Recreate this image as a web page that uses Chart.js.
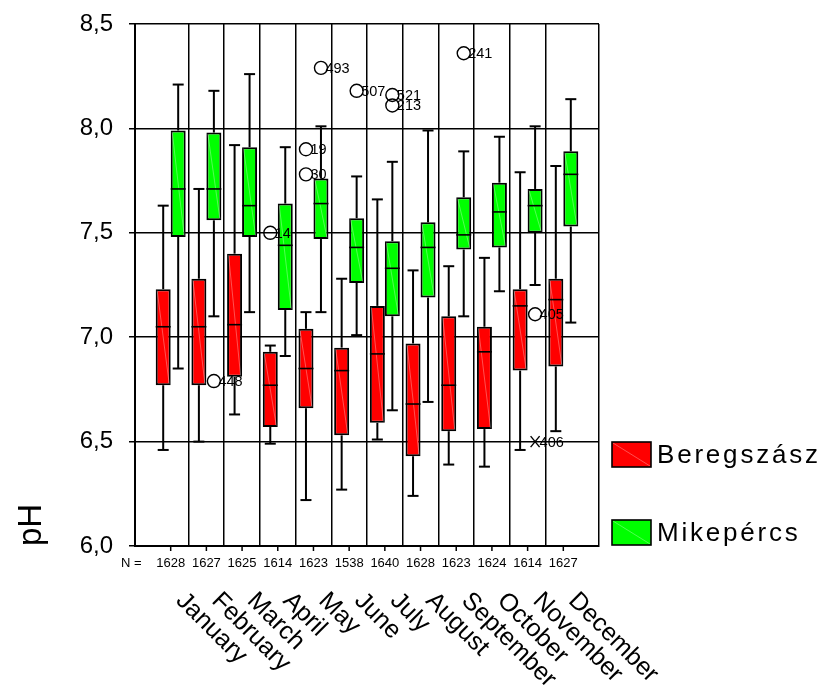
<!DOCTYPE html>
<html lang="hu">
<head>
    <meta charset="UTF-8">
    <title>pH boxplot</title>
    <script src="https://cdn.jsdelivr.net/npm/chart.js"></script>
    <style>
        html, body {
            margin: 0;
            padding: 0;
            background: #fff;
        }

        #wrap {
            width: 830px;
            height: 688px;
        }
    </style>
</head>
<body>
    <div id="wrap">
        <canvas id="box"></canvas>
    </div>
    <script>
        const FONT = 'Arial, "Liberation Sans", sans-serif';

        const months = ['January', 'February', 'March', 'April', 'May', 'June',
            'July', 'August', 'September', 'October', 'November', 'December'];
        const seriesNames = ['Beregszász', 'Mikepércs'];
        const yTicks = [6.0, 6.5, 7.0, 7.5, 8.0, 8.5];

        // sample sizes (N row)
        const nBereg = [16, 16, 16, 16, 16, 15, 16, 16, 16, 16, 16, 16];
        const nMike = [28, 27, 25, 14, 23, 38, 40, 28, 23, 24, 14, 27];

        // Beregszász: whisker ends, quartiles, median
        const beregMin = [6.46, 6.50, 6.63, 6.49, 6.22, 6.27, 6.51, 6.24, 6.39, 6.38, 6.46, 6.55];
        const beregQ1 = [6.77, 6.77, 6.81, 6.57, 6.66, 6.53, 6.59, 6.43, 6.55, 6.56, 6.84, 6.86];
        const beregMed = [7.05, 7.05, 7.06, 6.77, 6.85, 6.84, 6.92, 6.68, 6.77, 6.93, 7.15, 7.18];
        const beregQ3 = [7.23, 7.28, 7.40, 6.93, 7.04, 6.95, 7.15, 6.97, 7.10, 7.05, 7.23, 7.28];
        const beregMax = [7.63, 7.71, 7.92, 6.96, 7.12, 7.28, 7.66, 7.32, 7.34, 7.38, 7.79, 7.82];

        // Mikepércs
        const mikeMin = [6.85, 7.10, 7.12, 6.91, 7.12, 7.01, 6.65, 6.69, 7.10, 7.22, 7.25, 7.07];
        const mikeQ1 = [7.48, 7.56, 7.48, 7.13, 7.47, 7.26, 7.10, 7.19, 7.42, 7.43, 7.50, 7.53];
        const mikeMed = [7.71, 7.71, 7.63, 7.44, 7.64, 7.43, 7.33, 7.43, 7.49, 7.60, 7.63, 7.78];
        const mikeQ3 = [7.99, 7.98, 7.91, 7.64, 7.76, 7.57, 7.46, 7.55, 7.67, 7.74, 7.71, 7.89];
        const mikeMax = [8.21, 8.18, 8.26, 7.91, 8.01, 7.77, 7.84, 7.99, 7.89, 7.96, 8.01, 8.14];

        // outliers: series index, month index, value, case label, kind
        const outliers = [
            { s: 0, m: 3, v: 7.50, label: '14', kind: 'o' },
            { s: 0, m: 4, v: 7.90, label: '19', kind: 'o' },
            { s: 0, m: 4, v: 7.78, label: '30', kind: 'o' },
            { s: 1, m: 1, v: 6.79, label: '448', kind: 'o' },
            { s: 1, m: 4, v: 8.29, label: '493', kind: 'o' },
            { s: 1, m: 5, v: 8.18, label: '507', kind: 'o' },
            { s: 1, m: 6, v: 8.16, label: '521', kind: 'o' },
            { s: 1, m: 6, v: 8.11, label: '213', kind: 'o' },
            { s: 1, m: 8, v: 8.36, label: '241', kind: 'o' },
            { s: 1, m: 10, v: 7.11, label: '405', kind: 'o' },
            { s: 1, m: 10, v: 6.50, label: '406', kind: 'x' }
        ];

        const colors = ['#ff0000', '#00ff00'];
        const stats = [
            { min: beregMin, med: beregMed, max: beregMax },
            { min: mikeMin, med: mikeMed, max: mikeMax }
        ];

        const line = (ctx, x1, y1, x2, y2) => {
            ctx.beginPath();
            ctx.moveTo(x1, y1);
            ctx.lineTo(x2, y2);
            ctx.stroke();
        };

        // whiskers, medians, outliers, bottom labels and legend
        const boxExtras = {
            id: 'boxExtras',
            afterDatasetsDraw(chart) {
                const ctx = chart.ctx;
                const ys = chart.scales.y;
                ctx.save();
                stats.forEach((s, d) => {
                    chart.getDatasetMeta(d).data.forEach((bar, i) => {
                        const x = bar.x, w = bar.width;
                        const top = Math.min(bar.y, bar.base), bottom = Math.max(bar.y, bar.base);
                        // faint diagonal sheen like the original export
                        ctx.strokeStyle = 'rgba(255,255,255,0.45)';
                        ctx.lineWidth = 0.7;
                        line(ctx, x - w / 2 + 1.5, top + 1.5, x + w / 2 - 1.5, bottom - 1.5);

                        ctx.strokeStyle = '#000';
                        ctx.lineWidth = 2;
                        const yMax = ys.getPixelForValue(s.max[i]);
                        const yMin = ys.getPixelForValue(s.min[i]);
                        line(ctx, x, top, x, yMax);
                        line(ctx, x - 5.5, yMax, x + 5.5, yMax);
                        line(ctx, x, bottom, x, yMin);
                        line(ctx, x - 5.5, yMin, x + 5.5, yMin);
                        ctx.lineWidth = 1.6;
                        const yMed = ys.getPixelForValue(s.med[i]);
                        line(ctx, x - w / 2, yMed, x + w / 2, yMed);
                    });
                });

                // outliers
                ctx.font = '14.5px ' + FONT;
                ctx.textBaseline = 'middle';
                ctx.textAlign = 'left';
                ctx.fillStyle = '#000';
                outliers.forEach(o => {
                    const bar = chart.getDatasetMeta(o.s).data[o.m];
                    const x = bar.x, y = ys.getPixelForValue(o.v);
                    ctx.lineWidth = 1.4;
                    ctx.strokeStyle = '#000';
                    if (o.kind === 'o') {
                        ctx.beginPath();
                        ctx.arc(x, y, 6.5, 0, Math.PI * 2);
                        ctx.stroke();
                    } else {
                        line(ctx, x - 4.5, y - 5.5, x + 4.5, y + 5.5);
                        line(ctx, x - 4.5, y + 5.5, x + 4.5, y - 5.5);
                    }
                    ctx.fillText(o.label, x + 4.5, y + 1);
                });
                ctx.restore();
            },
            afterDraw(chart) {
                const ctx = chart.ctx;
                const xs = chart.scales.x;
                const area = chart.chartArea;
                ctx.save();
                ctx.fillStyle = '#000';
                ctx.strokeStyle = '#000';

                // centre tick marks, N row, month names
                ctx.lineWidth = 1.5;
                ctx.font = '13px ' + FONT;
                ctx.textBaseline = 'middle';
                ctx.textAlign = 'left';
                ctx.fillText('N =', 121, 563);
                months.forEach((m, i) => {
                    const cx = xs.getPixelForValue(i + 1);
                    line(ctx, cx, area.bottom, cx, area.bottom + 5);
                    ctx.font = '13px ' + FONT;
                    ctx.textAlign = 'center';
                    ctx.textBaseline = 'middle';
                    ctx.fillText(`${nBereg[i]}${nMike[i]}`, cx, 563);

                    ctx.save();
                    ctx.translate(cx + 18, 588);
                    ctx.rotate(Math.PI / 4);
                    ctx.font = '25px ' + FONT;
                    ctx.textAlign = 'left';
                    ctx.textBaseline = 'top';
                    ctx.fillText(m, 0, 0);
                    ctx.restore();
                });

                // legend
                const legendY = [442, 520];
                seriesNames.forEach((name, k) => {
                    const bx = 612, by = legendY[k], bw = 39, bh = 25;
                    ctx.fillStyle = colors[k];
                    ctx.fillRect(bx, by, bw, bh);
                    ctx.strokeStyle = 'rgba(255,255,255,0.45)';
                    ctx.lineWidth = 0.7;
                    line(ctx, bx + 1, by + 1, bx + bw - 1, by + bh - 1);
                    ctx.strokeStyle = '#000';
                    ctx.lineWidth = 1.6;
                    ctx.strokeRect(bx, by, bw, bh);
                    ctx.fillStyle = '#000';
                    ctx.font = '26px ' + FONT;
                    ctx.letterSpacing = '2.8px';
                    ctx.textAlign = 'left';
                    ctx.textBaseline = 'middle';
                    ctx.fillText(name, 657, by + bh / 2 + 1);
                    ctx.letterSpacing = '0px';
                });
                ctx.restore();
            }
        };

        const boundaries = [1.5, 2.5, 3.5, 4.5, 5.5, 6.5, 7.5, 8.5, 9.5, 10.5, 11.5, 13];

        new Chart(document.getElementById('box'), {
            type: 'bar',
            data: {
                datasets: [
                    {
                        label: seriesNames[0],
                        data: months.map((m, i) => ({ x: i + 1, y: [beregQ1[i], beregQ3[i]] })),
                        backgroundColor: colors[0],
                        borderColor: '#000',
                        borderWidth: 2,
                        borderSkipped: false
                    },
                    {
                        label: seriesNames[1],
                        data: months.map((m, i) => ({ x: i + 1, y: [mikeQ1[i], mikeQ3[i]] })),
                        backgroundColor: colors[1],
                        borderColor: '#000',
                        borderWidth: 2,
                        borderSkipped: false
                    }
                ]
            },
            options: {
                responsive: true,
                maintainAspectRatio: false,
                animation: false,
                categoryPercentage: 0.84,
                barPercentage: 1.0,
                layout: {
                    padding: { top: 24, right: 231, left: 0, bottom: 0 }
                },
                plugins: {
                    legend: { display: false },
                    tooltip: { enabled: false }
                },
                scales: {
                    x: {
                        type: 'linear',
                        min: 0,
                        max: 13,
                        offset: false,
                        afterBuildTicks: s => { s.ticks = boundaries.map(v => ({ value: v })); },
                        afterFit: s => { s.height = 142; s.paddingLeft = 0; s.paddingRight = 0; },
                        ticks: { display: false },
                        grid: { color: '#000', lineWidth: 1.5, drawTicks: false, offset: false },
                        border: { display: true, color: '#000', width: 2 }
                    },
                    y: {
                        min: 6,
                        max: 8.5,
                        afterBuildTicks: s => { s.ticks = yTicks.map(v => ({ value: v })); },
                        afterFit: s => { s.width = 135; s.paddingTop = 0; s.paddingBottom = 0; },
                        ticks: {
                            color: '#000',
                            font: { family: FONT, size: 24 },
                            padding: 16,
                            callback: v => v.toFixed(1).replace('.', ',')
                        },
                        grid: { color: '#000', lineWidth: 1.5, tickLength: 6 },
                        border: { display: true, color: '#000', width: 2 },
                        title: {
                            display: true,
                            text: 'pH',
                            align: 'start',
                            color: '#000',
                            font: { family: FONT, size: 33 },
                            padding: { top: 12, bottom: 0 }
                        }
                    }
                }
            },
            plugins: [boxExtras]
        });
    </script>
</body>
</html>
